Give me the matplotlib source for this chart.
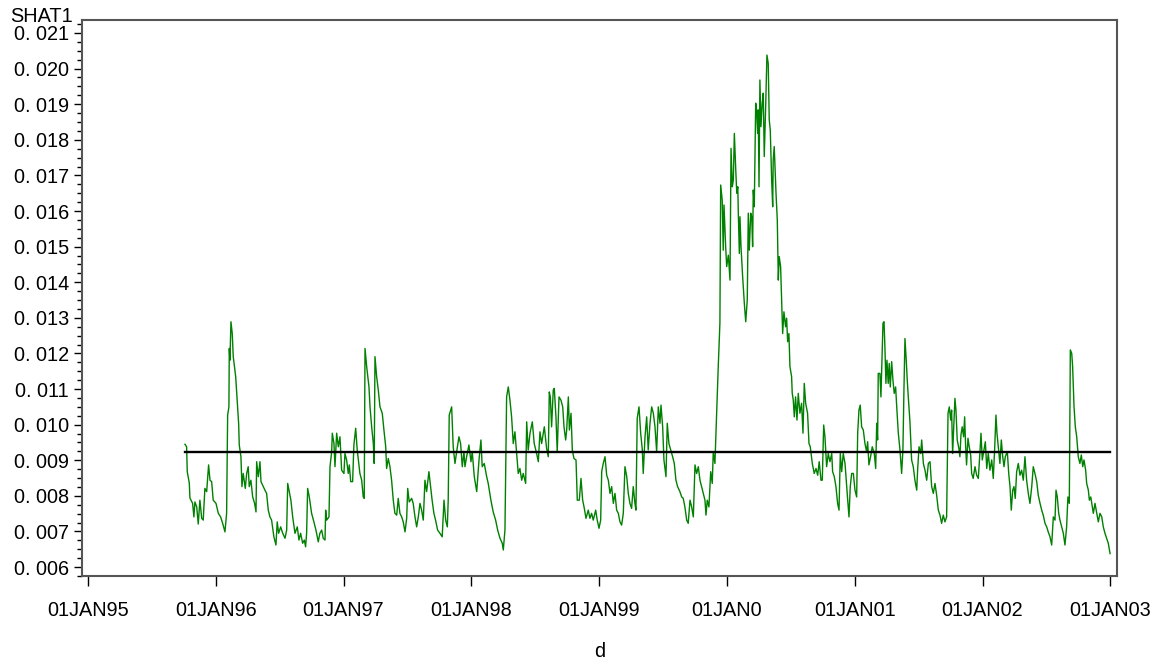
import numpy as np
import matplotlib.pyplot as plt
from matplotlib.ticker import MultipleLocator, AutoMinorLocator, FuncFormatter

# observation date as decimal year
d = [
    1995.759, 1995.772, 1995.777, 1995.793, 1995.798, 1995.819, 1995.829, 1995.837, 1995.851, 1995.863,
    1995.876, 1995.890, 1995.902, 1995.915, 1995.929, 1995.944, 1995.955, 1995.968, 1995.980, 1996.002,
    1996.020, 1996.038, 1996.054, 1996.072, 1996.085, 1996.093, 1996.103, 1996.106, 1996.111, 1996.119,
    1996.129, 1996.137, 1996.156, 1996.168, 1996.179, 1996.184, 1996.197, 1996.205, 1996.215, 1996.231,
    1996.242, 1996.254, 1996.262, 1996.275, 1996.289, 1996.304, 1996.315, 1996.320, 1996.333, 1996.346,
    1996.354, 1996.367, 1996.385, 1996.398, 1996.411, 1996.424, 1996.437, 1996.455, 1996.471, 1996.481,
    1996.492, 1996.508, 1996.524, 1996.542, 1996.555, 1996.563, 1996.575, 1996.588, 1996.602, 1996.620,
    1996.638, 1996.651, 1996.664, 1996.680, 1996.693, 1996.703, 1996.711, 1996.719, 1996.732, 1996.750,
    1996.768, 1996.784, 1996.802, 1996.815, 1996.829, 1996.841, 1996.855, 1996.860, 1996.868, 1996.886,
    1996.894, 1996.907, 1996.912, 1996.925, 1996.933, 1996.946, 1996.959, 1996.972, 1996.985, 1997.003,
    1997.011, 1997.024, 1997.037, 1997.045, 1997.056, 1997.071, 1997.081, 1997.095, 1997.107, 1997.128,
    1997.142, 1997.154, 1997.162, 1997.168, 1997.181, 1997.199, 1997.207, 1997.220, 1997.233, 1997.240,
    1997.246, 1997.259, 1997.272, 1997.285, 1997.303, 1997.316, 1997.330, 1997.337, 1997.350, 1997.363,
    1997.376, 1997.389, 1997.402, 1997.416, 1997.428, 1997.441, 1997.455, 1997.467, 1997.481, 1997.494,
    1997.502, 1997.514, 1997.533, 1997.545, 1997.559, 1997.572, 1997.585, 1997.598, 1997.611, 1997.624,
    1997.637, 1997.650, 1997.668, 1997.681, 1997.693, 1997.707, 1997.720, 1997.736, 1997.754, 1997.772,
    1997.786, 1997.799, 1997.812, 1997.819, 1997.827, 1997.846, 1997.858, 1997.872, 1997.885, 1997.903,
    1997.916, 1997.929, 1997.942, 1997.950, 1997.963, 1997.981, 1997.997, 1998.007, 1998.023, 1998.042,
    1998.060, 1998.075, 1998.085, 1998.101, 1998.120, 1998.132, 1998.153, 1998.171, 1998.190, 1998.206,
    1998.224, 1998.242, 1998.250, 1998.263, 1998.276, 1998.289, 1998.302, 1998.315, 1998.328, 1998.341,
    1998.355, 1998.367, 1998.380, 1998.394, 1998.406, 1998.425, 1998.433, 1998.445, 1998.459, 1998.477,
    1998.492, 1998.511, 1998.524, 1998.537, 1998.550, 1998.571, 1998.589, 1998.602, 1998.610, 1998.618,
    1998.628, 1998.641, 1998.649, 1998.662, 1998.672, 1998.686, 1998.701, 1998.715, 1998.725, 1998.738,
    1998.746, 1998.759, 1998.767, 1998.780, 1998.790, 1998.803, 1998.819, 1998.829, 1998.845, 1998.858,
    1998.871, 1998.884, 1998.897, 1998.915, 1998.928, 1998.941, 1998.954, 1998.973, 1998.985, 1998.999,
    1999.012, 1999.020, 1999.032, 1999.046, 1999.059, 1999.072, 1999.085, 1999.098, 1999.111, 1999.124,
    1999.137, 1999.150, 1999.163, 1999.176, 1999.189, 1999.202, 1999.216, 1999.228, 1999.241, 1999.254,
    1999.267, 1999.280, 1999.288, 1999.298, 1999.312, 1999.325, 1999.338, 1999.345, 1999.359, 1999.372,
    1999.384, 1999.398, 1999.411, 1999.424, 1999.437, 1999.450, 1999.463, 1999.476, 1999.484, 1999.497,
    1999.507, 1999.523, 1999.533, 1999.546, 1999.560, 1999.575, 1999.588, 1999.601, 1999.614, 1999.632,
    1999.646, 1999.658, 1999.671, 1999.685, 1999.697, 1999.711, 1999.724, 1999.737, 1999.750, 1999.763,
    1999.776, 1999.789, 1999.802, 1999.815, 1999.828, 1999.836, 1999.846, 1999.859, 1999.873, 1999.885,
    1999.893, 1999.906, 1999.920, 1999.924, 1999.932, 1999.945, 1999.951, 1999.963, 1999.971, 1999.977,
    1999.990, 1999.998, 2000.011, 2000.024, 2000.029, 2000.032, 2000.042, 2000.050, 2000.058, 2000.069,
    2000.077, 2000.085, 2000.089, 2000.097, 2000.102, 2000.110, 2000.123, 2000.136, 2000.147, 2000.159,
    2000.167, 2000.175, 2000.186, 2000.194, 2000.201, 2000.206, 2000.214, 2000.225, 2000.232, 2000.240,
    2000.245, 2000.251, 2000.258, 2000.266, 2000.276, 2000.284, 2000.292, 2000.303, 2000.313, 2000.323,
    2000.331, 2000.339, 2000.350, 2000.358, 2000.362, 2000.370, 2000.376, 2000.384, 2000.394, 2000.402,
    2000.409, 2000.420, 2000.428, 2000.436, 2000.446, 2000.459, 2000.467, 2000.475, 2000.485, 2000.493,
    2000.506, 2000.511, 2000.519, 2000.527, 2000.537, 2000.548, 2000.558, 2000.571, 2000.584, 2000.595,
    2000.605, 2000.616, 2000.631, 2000.642, 2000.652, 2000.668, 2000.683, 2000.697, 2000.710, 2000.722,
    2000.736, 2000.746, 2000.757, 2000.767, 2000.780, 2000.793, 2000.806, 2000.820, 2000.827, 2000.840,
    2000.853, 2000.866, 2000.877, 2000.887, 2000.898, 2000.910, 2000.924, 2000.937, 2000.945, 2000.955,
    2000.965, 2000.976, 2000.989, 2001.002, 2001.015, 2001.023, 2001.033, 2001.043, 2001.054, 2001.067,
    2001.080, 2001.093, 2001.101, 2001.111, 2001.124, 2001.137, 2001.153, 2001.164, 2001.172, 2001.179,
    2001.184, 2001.197, 2001.205, 2001.213, 2001.221, 2001.229, 2001.236, 2001.244, 2001.252, 2001.262,
    2001.270, 2001.278, 2001.289, 2001.299, 2001.309, 2001.320, 2001.330, 2001.341, 2001.354, 2001.367,
    2001.377, 2001.385, 2001.393, 2001.403, 2001.411, 2001.419, 2001.432, 2001.445, 2001.458, 2001.471,
    2001.485, 2001.492, 2001.503, 2001.516, 2001.524, 2001.537, 2001.550, 2001.563, 2001.576, 2001.589,
    2001.602, 2001.615, 2001.628, 2001.641, 2001.654, 2001.667, 2001.680, 2001.693, 2001.706, 2001.719,
    2001.730, 2001.740, 2001.751, 2001.758, 2001.766, 2001.774, 2001.784, 2001.792, 2001.802, 2001.815,
    2001.823, 2001.831, 2001.841, 2001.852, 2001.860, 2001.867, 2001.875, 2001.886, 2001.896, 2001.907,
    2001.915, 2001.927, 2001.941, 2001.954, 2001.967, 2001.980, 2001.988, 2001.998, 2002.011, 2002.022,
    2002.033, 2002.045, 2002.058, 2002.072, 2002.084, 2002.095, 2002.105, 2002.113, 2002.123, 2002.136,
    2002.147, 2002.158, 2002.168, 2002.178, 2002.194, 2002.205, 2002.215, 2002.225, 2002.236, 2002.246,
    2002.256, 2002.267, 2002.280, 2002.293, 2002.306, 2002.319, 2002.332, 2002.345, 2002.358, 2002.371,
    2002.385, 2002.397, 2002.410, 2002.424, 2002.436, 2002.450, 2002.463, 2002.475, 2002.489, 2002.502,
    2002.514, 2002.528, 2002.541, 2002.554, 2002.567, 2002.575, 2002.585, 2002.596, 2002.606, 2002.619,
    2002.632, 2002.645, 2002.658, 2002.668, 2002.679, 2002.687, 2002.698, 2002.705, 2002.716, 2002.726,
    2002.737, 2002.749, 2002.762, 2002.773, 2002.784, 2002.794, 2002.807, 2002.815, 2002.828, 2002.836,
    2002.847, 2002.859, 2002.867, 2002.880, 2002.894, 2002.906, 2002.919, 2002.933, 2002.945, 2002.958,
    2002.971, 2002.984, 2002.998,
]

# SHAT1 in units of 0.001
shat1_k = [
    9.45, 9.38, 8.68, 8.36, 7.94, 7.79, 7.41, 7.83, 7.69, 7.21,
    7.88, 7.37, 7.32, 8.21, 8.12, 8.87, 8.44, 8.40, 7.88, 7.79,
    7.51, 7.41, 7.23, 6.99, 7.51, 10.27, 10.50, 12.14, 11.81, 12.89,
    12.56, 11.91, 11.35, 10.69, 10.04, 9.43, 9.10, 8.26, 8.63, 8.21,
    8.63, 8.82, 8.26, 8.44, 7.97, 7.79, 7.55, 8.96, 8.54, 8.96,
    8.40, 8.30, 8.16, 8.07, 7.60, 7.41, 7.32, 6.85, 6.62, 7.27,
    6.95, 7.13, 6.95, 6.81, 7.04, 8.35, 8.12, 7.88, 7.41, 6.95,
    7.13, 6.76, 6.95, 6.67, 6.76, 6.57, 6.95, 8.21, 7.97, 7.51,
    7.27, 7.04, 6.71, 6.95, 7.04, 6.81, 6.76, 7.60, 7.32, 7.41,
    8.82, 9.24, 9.76, 9.47, 8.82, 9.76, 9.38, 9.66, 8.72, 8.63,
    9.19, 9.01, 8.63, 8.87, 8.40, 8.40, 9.43, 9.90, 9.29, 8.63,
    8.44, 7.97, 7.93, 12.14, 11.63, 11.06, 10.50, 9.94, 9.47, 8.91,
    11.91, 11.35, 10.97, 10.50, 10.32, 9.85, 9.38, 8.77, 9.05, 8.82,
    8.44, 7.88, 7.51, 7.46, 7.93, 7.51, 7.41, 7.27, 6.99, 7.37,
    8.21, 7.83, 7.93, 7.79, 7.41, 7.13, 7.41, 7.79, 7.60, 7.32,
    8.44, 8.12, 8.68, 8.26, 7.88, 7.51, 7.32, 7.04, 6.95, 6.85,
    7.88, 7.32, 7.13, 7.88, 10.27, 10.50, 9.38, 8.91, 9.24, 9.66,
    9.47, 8.82, 9.24, 8.82, 9.10, 9.43, 8.96, 9.24, 8.54, 8.12,
    9.01, 9.57, 8.82, 8.91, 8.54, 8.35, 7.88, 7.55, 7.32, 7.04,
    6.81, 6.67, 6.48, 7.04, 10.78, 11.06, 10.69, 10.22, 9.47, 9.80,
    9.19, 8.63, 8.77, 8.44, 8.63, 8.35, 10.08, 9.29, 9.76, 10.08,
    9.47, 9.19, 8.96, 9.80, 9.47, 9.94, 9.33, 9.10, 10.92, 10.78,
    9.94, 10.97, 11.02, 10.22, 9.24, 10.78, 10.69, 10.50, 9.94, 9.57,
    9.85, 10.78, 9.85, 10.32, 9.29, 9.05, 9.01, 7.88, 7.88, 8.49,
    7.88, 7.65, 7.37, 7.60, 7.37, 7.51, 7.32, 7.60, 7.32, 7.09,
    7.32, 8.68, 8.91, 9.10, 8.58, 8.44, 8.07, 8.26, 7.79, 8.07,
    7.60, 7.51, 7.27, 7.18, 7.51, 8.82, 8.54, 8.07, 7.79, 7.65,
    8.26, 7.79, 7.60, 10.18, 10.50, 9.76, 9.29, 8.63, 9.66, 10.22,
    9.29, 10.04, 10.50, 10.32, 9.94, 9.24, 10.50, 10.04, 10.55, 9.94,
    9.01, 8.54, 10.04, 9.47, 9.29, 9.10, 8.91, 8.44, 8.26, 8.12,
    7.97, 7.93, 7.69, 7.32, 7.23, 7.88, 7.69, 7.41, 8.87, 8.63,
    8.82, 8.44, 8.26, 8.07, 7.88, 7.46, 7.88, 7.69, 8.68, 8.35,
    9.24, 8.91, 10.41, 10.78, 11.63, 12.85, 16.73, 16.31, 14.90, 16.17,
    15.00, 14.44, 14.76, 14.06, 16.31, 17.76, 16.68, 16.87, 18.18, 17.15,
    16.50, 16.68, 15.94, 14.81, 15.84, 15.00, 14.15, 13.41, 12.89, 13.50,
    15.94, 14.90, 15.94, 15.84, 15.00, 16.59, 16.12, 19.03, 18.84, 18.18,
    18.84, 16.68, 19.68, 18.37, 19.03, 19.31, 17.53, 18.93, 20.38, 20.15,
    18.56, 18.28, 16.87, 16.12, 17.43, 17.81, 17.24, 16.50, 15.75, 14.06,
    14.72, 14.44, 13.50, 12.56, 13.17, 12.75, 12.99, 12.33, 12.56, 11.63,
    11.35, 10.88, 10.69, 10.22, 10.78, 10.13, 10.88, 10.32, 10.60, 9.76,
    11.16, 10.60, 10.32, 9.47, 9.38, 8.91, 8.63, 8.77, 8.58, 8.96,
    8.44, 8.44, 9.99, 9.66, 8.82, 9.19, 8.96, 9.19, 8.68, 8.54,
    8.26, 7.79, 7.60, 9.19, 8.68, 9.19, 8.91, 8.26, 7.88, 7.41,
    8.26, 8.63, 8.63, 8.16, 7.97, 9.76, 10.41, 10.55, 9.94, 9.85,
    9.47, 9.24, 9.52, 8.87, 9.10, 9.38, 9.19, 8.77, 10.04, 9.57,
    11.44, 11.44, 10.78, 11.81, 12.85, 12.89, 12.19, 11.16, 11.81, 11.16,
    11.72, 11.06, 11.77, 11.25, 10.88, 11.06, 10.41, 9.76, 9.29, 8.63,
    9.29, 10.97, 12.42, 11.81, 11.25, 10.78, 10.08, 9.01, 8.82, 8.44,
    8.16, 8.72, 9.38, 9.19, 9.57, 8.91, 8.72, 8.44, 8.91, 8.96,
    8.26, 8.07, 8.35, 8.02, 7.60, 7.46, 7.23, 7.46, 7.27, 7.41,
    10.32, 10.50, 10.13, 10.41, 9.19, 9.85, 10.74, 10.41, 9.57, 9.33,
    9.10, 9.71, 9.94, 9.66, 10.22, 9.47, 8.87, 9.62, 9.38, 9.15,
    8.63, 8.49, 8.82, 8.58, 8.49, 9.24, 9.76, 9.01, 9.29, 9.52,
    8.77, 9.19, 8.72, 9.01, 8.49, 9.33, 10.27, 9.76, 9.38, 8.91,
    9.57, 9.10, 8.82, 9.10, 9.24, 8.63, 8.26, 7.60, 8.16, 8.26,
    7.93, 8.68, 8.91, 8.58, 8.72, 8.44, 9.10, 8.44, 8.07, 7.79,
    8.26, 8.82, 8.63, 8.40, 8.02, 7.79, 7.60, 7.46, 7.23, 7.13,
    6.99, 6.85, 6.62, 7.41, 7.32, 8.16, 7.97, 7.51, 7.32, 7.13,
    6.95, 6.62, 7.13, 7.97, 7.79, 12.10, 12.00, 11.63, 10.50, 9.94,
    9.66, 9.10, 8.91, 9.15, 8.82, 9.01, 8.72, 8.35, 8.16, 7.88,
    7.97, 7.69, 7.51, 7.79, 7.51, 7.27, 7.51, 7.41, 7.13, 6.95,
    6.81, 6.67, 6.38,
]

mean_shat1 = 0.00923
mean_span = [1995.759, 2002.998]

year_ticks = [1995, 1996, 1997, 1998, 1999, 2000, 2001, 2002, 2003]
year_labels = ['01JAN95', '01JAN96', '01JAN97', '01JAN98', '01JAN99',
               '01JAN0', '01JAN01', '01JAN02', '01JAN03']

plt.rcParams['font.family'] = ['Liberation Sans', 'DejaVu Sans']
plt.rcParams['font.size'] = 14.3

fig = plt.figure(figsize=(11.64, 6.62), dpi=100)
ax = fig.add_axes([0.0704, 0.1299, 0.8892, 0.8399])

ax.plot(d, np.array(shat1_k) / 1000, color='#008000', lw=1.0)
ax.plot(mean_span, [mean_shat1, mean_shat1], color='black', lw=1.7)

ax.set_xlim(1994.953, 2003.052)
ax.set_ylim(0.00575, 0.021365)
ax.set_xticks(year_ticks)
ax.set_xticklabels(year_labels)
ax.yaxis.set_major_locator(MultipleLocator(0.001))
ax.yaxis.set_minor_locator(AutoMinorLocator(4))
ax.yaxis.set_major_formatter(FuncFormatter(lambda v, p: '0. %03d' % round(v * 1000)))

ax.tick_params(axis='x', length=7, width=1, pad=11, color='black')
ax.tick_params(axis='y', which='major', length=5.5, width=1, pad=4, color='black')
ax.tick_params(axis='y', which='minor', length=3.5, width=1, color='black')
for s in ax.spines.values():
    s.set_color('#555555')
    s.set_linewidth(1.5)

ax.set_xlabel('d', labelpad=16)
fig.text(10 / 1164, 1 - 16 / 662, 'SHAT1', va='center', ha='left')

fig.savefig('out.png', dpi=100)
